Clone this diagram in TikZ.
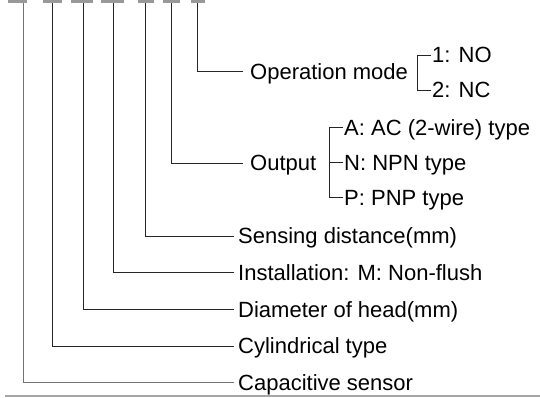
\documentclass[tikz,border=0pt]{standalone}
\usepackage{fontspec}
\setmainfont{Liberation Sans}
\usetikzlibrary{positioning}

\begin{document}
\begin{tikzpicture}[
        x=1pt,
        y=-1pt,
        node distance=36.7pt,
        lbl/.style={
            anchor=west,
            inner xsep=4pt,
            inner ysep=0pt,
            text height=15.7pt,
            text depth=0pt,
            font=\fontsize{22}{26}\selectfont,
            text=black
        },
        sublbl/.style={
            lbl,
            inner xsep=1pt
        },
        codebar/.style={
            rectangle,
            fill=black!40,
            inner sep=0pt,
            minimum height=3pt
        },
        lead/.style={
            draw=black!85,
            line width=0.9pt
        },
        brace/.style={
            draw=black!85,
            line width=0.9pt
        }
    ]
    \useasboundingbox (0,0) rectangle (540,398);

    % Code bars
    \node[codebar, minimum width=19pt] (bar1) at (17.5,1.5) {};
    \node[codebar, minimum width=19pt] (bar2) at (52.5,1.5) {};
    \node[codebar, minimum width=22pt] (bar3) at (82,1.5) {};
    \node[codebar, minimum width=23pt] (bar4) at (112,1.5) {};
    \node[codebar, minimum width=16pt] (bar5) at (146,1.5) {};
    \node[codebar, minimum width=17pt] (bar6) at (171.5,1.5) {};
    \node[codebar, minimum width=14pt] (bar7) at (197.5,1.5) {};

    % Labels
    \node[lbl, inner xsep=7pt] (opmode) at (243,71.7) {Operation mode};
    \node[lbl, inner xsep=7pt] (output) at (243,163) {Output};
    \node[lbl] (sense) at (234,236) {Sensing distance(mm)};
    \node[lbl, below=of sense.west, anchor=west] (inst)
        {Installation: M: Non-flush};
    \node[lbl, below=of inst.west, anchor=west] (diam)
        {Diameter of head(mm)};
    \node[lbl, below=of diam.west, anchor=west] (cyl)
        {Cylindrical type};
    \node[lbl, below=of cyl.west, anchor=west] (cap)
        {Capacitive sensor};

    % Options
    \node[sublbl] (no) at (431,55) {1: NO};
    \node[sublbl, below=35pt of no.west, anchor=west] (nc) {2: NC};
    \node[sublbl] (acw) at (343,127.3) {A: AC (2-wire) type};
    \node[sublbl, below=35pt of acw.west, anchor=west] (npn) {N: NPN type};
    \node[sublbl, below=35pt of npn.west, anchor=west] (pnp) {P: PNP type};

    % Leads: bars -> labels
    \draw[lead, black!55] ([xshift=5.5pt]bar1.south) |- (cap.west);
    \draw[lead] (bar2.south) |- (cyl.west);
    \draw[lead] ([xshift=1pt]bar3.south) |- (diam.west);
    \draw[lead] ([xshift=1pt]bar4.south) |- (inst.west);
    \draw[lead] ([xshift=-1pt]bar5.south) |- (sense.west);
    \draw[lead] (bar6.south) |- (output.west);
    \draw[lead] (bar7.south) |- (opmode.west);

    % Brackets
    \draw[brace] (no.west) -- ++(-14,0) |- (nc.west);
    \draw[brace] (acw.west) -- ++(-14,0) |- (pnp.west);
    \draw[brace] (npn.west) -- ++(-14,0);

    % Bottom rule
    \draw[black!35, line width=2pt] (5,396) -- (540,396);

\end{tikzpicture}
\end{document}
